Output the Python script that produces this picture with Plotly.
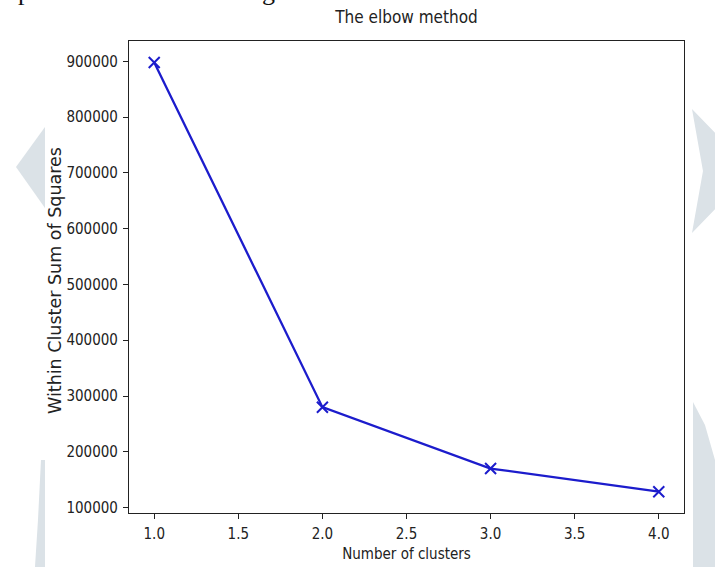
import plotly.graph_objects as go

# Data
clusters = [1, 2, 3, 4]
wcss = [898000, 280000, 170000, 128500]
y_ticks = [100000, 200000, 300000, 400000, 500000, 600000, 700000, 800000, 900000]
x_ticks = [1.0, 1.5, 2.0, 2.5, 3.0, 3.5, 4.0]

W, H = 715, 567
L, R, T, B = 129, 684, 41, 513

def px(x):
    return (x - L) / (R - L)

def py(y):
    return (B - y) / (B - T)

def path(pts):
    return "M " + " L ".join(f"{px(a):.4f},{py(b):.4f}" for a, b in pts) + " Z"

wm = "#dbe2e7"
shapes = [
    dict(type="path", xref="paper", yref="paper", layer="below", line_width=0, fillcolor=wm,
         path=path([(16, 167), (45, 127), (45, 208)])),
    dict(type="path", xref="paper", yref="paper", layer="below", line_width=0, fillcolor=wm,
         path=path([(41, 460), (45, 460), (45, 567), (35, 567), (38, 520)])),
    dict(type="path", xref="paper", yref="paper", layer="below", line_width=0, fillcolor=wm,
         path=path([(692, 109), (752, 171), (692, 233), (703, 171)])),
    dict(type="path", xref="paper", yref="paper", layer="below", line_width=0, fillcolor=wm,
         path=path([(693, 402), (705, 425), (715, 460), (715, 567), (693, 567)])),
]

fig = go.Figure()
fig.add_trace(go.Scatter(
    x=clusters, y=wcss, mode="lines+markers",
    line=dict(color="#1c1ccc", width=2.3),
    marker=dict(symbol="x-thin", size=11, line=dict(color="#1c1ccc", width=2), color="#1c1ccc"),
    showlegend=False,
))

font = "DejaVu Sans Condensed, DejaVu Sans, sans-serif"
fig.update_layout(
    width=W, height=H,
    margin=dict(l=L, r=W - R, t=T, b=H - B, autoexpand=False),
    paper_bgcolor="white", plot_bgcolor="white",
    font=dict(family=font, color="#222222"),
    title=dict(text="The elbow method", x=0.5, xref="paper", y=1 - 17 / H, yref="container",
               xanchor="center", yanchor="middle", font=dict(size=17, color="#222222")),
    shapes=shapes,
    annotations=[
        dict(text="p", x=px(24), y=py(-9), xref="paper", yref="paper", showarrow=False,
             xanchor="center", yanchor="middle", font=dict(family="Liberation Serif", size=26, color="#111111")),
        dict(text="g", x=px(268), y=py(-9), xref="paper", yref="paper", showarrow=False,
             xanchor="center", yanchor="middle", font=dict(family="Liberation Serif", size=26, color="#111111")),
        dict(text="Within Cluster Sum of Squares", textangle=-90, x=px(55), y=py(281),
             xref="paper", yref="paper", showarrow=False, xanchor="center", yanchor="middle",
             font=dict(family="DejaVu Sans, sans-serif", size=17.5, color="#222222")),
    ],
)
fig.update_xaxes(
    range=[0.85, 4.15], tickvals=x_ticks, ticktext=[f"{v:.1f}" for v in x_ticks],
    showgrid=False, zeroline=False, showline=True, linecolor="#222222", linewidth=1.2, mirror=True,
    ticks="outside", ticklen=5, tickcolor="#222222", tickfont=dict(size=15), ticklabelstandoff=2,
    title=dict(text="Number of clusters", font=dict(size=15), standoff=6),
)
fig.update_yaxes(
    range=[90300, 936400], tickvals=y_ticks, ticktext=[str(v) for v in y_ticks],
    showgrid=False, zeroline=False, showline=True, linecolor="#222222", linewidth=1.2, mirror=True,
    ticks="outside", ticklen=5, tickcolor="#222222", tickfont=dict(size=15), ticklabelstandoff=2,
)

fig.write_html("out.html")
